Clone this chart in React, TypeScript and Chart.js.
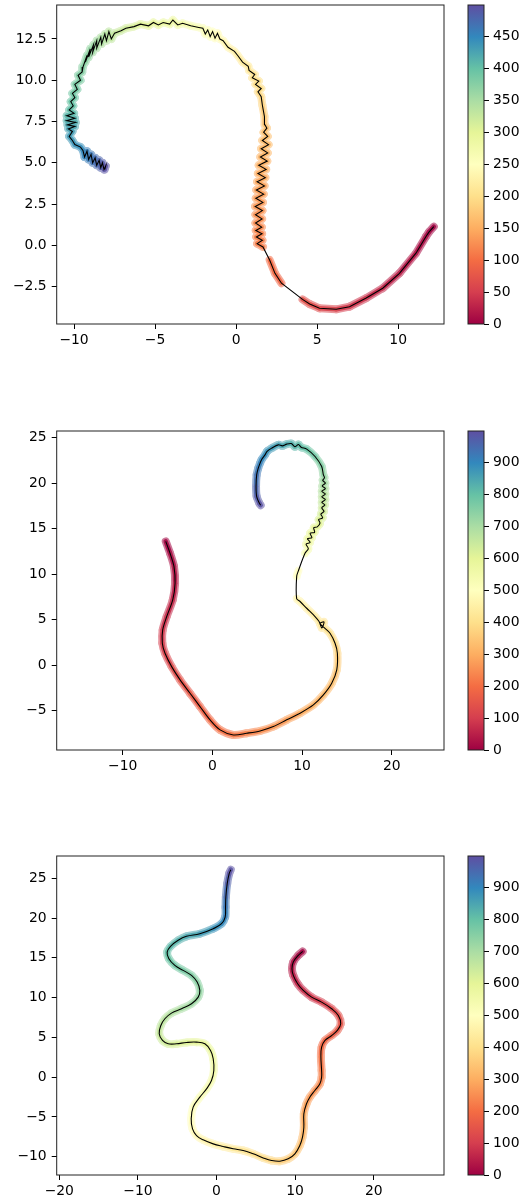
import React, { useEffect, useRef } from 'react';
import { Chart, registerables } from 'chart.js';
Chart.register(...registerables);

// ---------------- Panel 1 (500 points, colour = index) ----------------
const p1X = [12.2, 11.9, 11.72, 11.1, 10.08, 9.05, 8.03, 7.0, 6.18, 5.15, 4.54, 4.1,
  2.8, 2.4, 2.07,
  1.66, 1.3, 1.62, 1.25, 1.6, 1.22, 1.58, 1.2, 1.6, 1.2, 1.62, 1.18, 1.65, 1.22, 1.7, 1.25, 1.75, 1.3, 1.8, 1.35, 1.85, 1.4, 1.92, 1.5, 1.95, 1.55, 2.0, 1.62, 1.95, 1.7, 1.9, 1.78,
  1.75, 1.62, 1.55, 1.35, 1.55, 1.2, 1.4, 1.0, 1.15, 0.8, 0.75, 0.4, 0.1,
  -0.1, -0.5, -0.8, -1.0, -1.15, -1.3, -1.45, -1.6, -1.75, -1.9, -2.05, -2.3, -2.8, -3.3, -3.6, -3.9, -4.1, -4.5, -4.8, -5.1, -5.4, -5.9, -6.3, -6.8, -7.1, -7.5,
  -7.7, -7.85, -8.0, -8.1, -8.3, -8.35, -8.6, -8.6, -8.85, -8.8, -9.1, -9.0, -9.3, -9.2, -9.45,
  -9.5, -9.75, -9.6, -9.95, -9.8, -10.1, -9.95, -10.2, -10.05, -10.3,
  -10.0, -10.45, -9.95, -10.45, -9.9, -10.4, -9.95, -10.35, -10.1, -10.3, -10.1, -9.95, -9.6,
  -9.45, -9.35, -9.2, -9.1, -8.95, -8.85, -8.7, -8.6, -8.45, -8.35, -8.25, -8.15, -8.05, -8.1];
const p1Y = [1.13, 0.8, 0.53, -0.48, -1.7, -2.6, -3.2, -3.72, -3.88, -3.82, -3.56, -3.28,
  -2.3, -1.7, -0.89,
  -0.1, 0.1, 0.3, 0.5, 0.7, 0.9, 1.1, 1.35, 1.6, 1.85, 2.1, 2.35, 2.6, 2.85, 3.1, 3.35, 3.6, 3.85, 4.1, 4.35, 4.6, 4.85, 5.1, 5.35, 5.6, 5.85, 6.1, 6.35, 6.6, 6.85, 7.1, 7.3,
  7.8, 8.5, 9.0, 9.3, 9.5, 9.75, 9.95, 10.15, 10.35, 10.6, 10.85, 11.1, 11.5,
  11.75, 12.0, 12.4, 12.5, 12.85, 12.55, 12.95, 12.65, 13.05, 12.8, 13.15, 13.2, 13.3, 13.45, 13.35, 13.65, 13.4, 13.5, 13.35, 13.5, 13.3, 13.4, 13.25, 13.15, 13.0, 12.85,
  12.5, 12.95, 12.4, 12.8, 12.2, 12.6, 11.95, 12.4, 11.7, 12.15, 11.4, 11.9, 11.1, 11.5, 10.8,
  10.5, 10.3, 10.0, 9.75, 9.45, 9.2, 8.95, 8.7, 8.45, 8.2,
  8.0, 7.85, 7.7, 7.55, 7.45, 7.3, 7.2, 7.05, 6.9, 6.6, 6.35, 6.1, 5.95,
  5.75, 5.35, 5.7, 5.2, 5.5, 5.0, 5.3, 4.85, 5.15, 4.7, 5.0, 4.6, 4.8, 4.6];
const p1T = [0, 4, 7, 14, 22, 30, 38, 46, 53, 61, 67, 72,
  88, 94, 100,
  110, 112, 114, 116, 118, 120, 122, 124, 126, 128, 130, 132, 134, 136, 138, 140, 142, 144, 146, 148, 150, 152, 154, 156, 158, 160, 162, 164, 166, 168, 170, 172,
  178, 186, 191, 194, 196, 199, 201, 204, 206, 209, 212, 215, 219,
  225, 230, 236, 239, 242, 245, 248, 251, 254, 257, 260, 263, 268, 274, 277, 280, 283, 287, 291, 294, 298, 304, 309, 316, 321, 327,
  330, 333, 336, 339, 342, 345, 348, 351, 354, 357, 360, 363, 366, 369, 372,
  375, 378, 381, 384, 387, 390, 393, 396, 399, 402,
  405, 408, 411, 414, 417, 420, 423, 426, 429, 432, 435, 438, 442,
  446, 450, 454, 458, 462, 466, 470, 474, 478, 482, 486, 490, 494, 499];
const p1GapAfterT = [72, 100];
const p1XTicks = [-10, -5, 0, 5, 10];
const p1YTicks = [-2.5, 0, 2.5, 5, 7.5, 10, 12.5];
const p1CTicks = [0, 50, 100, 150, 200, 250, 300, 350, 400, 450];

// ---------------- Panel 2 (1000 points) ----------------
const p2X = [-5.2, -4.72, -4.28, -4.16, -4.42, -5.09, -5.54, -5.58, -5.28, -4.54, -3.6, -2.49, -1.38, -0.26, 0.86, 2.34, 3.83, 5.32, 6.8, 8.29, 9.78, 11.26, 12.38, 13.31, 13.87, 13.94, 13.68, 13.12,
  12.5, 12.0, 12.45, 12.2, 11.9, 11.45, 10.52, 9.78, 9.4,
  9.4, 9.6,
  10.33, 10.7, 10.45, 10.9, 10.6, 11.1, 10.9, 11.4, 11.3, 11.7, 12.0, 11.85, 12.3, 12.1, 12.45, 12.2,
  12.55, 12.2, 12.6, 12.2, 12.6, 12.2, 12.6, 12.25, 12.6, 12.3, 12.5, 12.38,
  12.19, 11.45, 10.52, 9.9, 9.6, 9.2, 8.8, 8.29, 7.8, 7.36, 6.62, 6.1, 5.87, 5.5, 5.32, 5.1, 4.94, 4.87, 4.94, 5.24, 5.39];
const p2Y = [13.6, 12.3, 10.84, 9.0, 7.18, 5.35, 3.88, 2.42, 1.32, -0.15, -1.61, -3.08, -4.54, -6.0, -7.1, -7.66, -7.47, -7.22, -6.74, -6.0, -5.27, -4.36, -3.26, -1.98, -0.51, 1.32, 2.42, 3.52,
  4.1, 4.6, 4.75, 4.1, 4.8, 5.35, 6.26, 7.0, 7.3,
  9.74, 10.4,
  12.3, 12.8, 13.3, 13.5, 13.9, 14.0, 14.5, 14.6, 15.1, 15.2, 15.6, 16.0, 16.2, 16.6, 16.9, 17.3,
  17.6, 17.9, 18.2, 18.5, 18.8, 19.1, 19.4, 19.7, 20.0, 20.3, 20.6, 20.9,
  21.83, 22.93, 23.74, 23.95, 24.25, 24.0, 24.35, 24.29, 24.1, 24.21, 23.85, 23.5, 23.11, 22.6, 22.2, 21.6, 20.92, 19.63, 18.53, 17.8, 17.58];
const p2T = [0, 15, 30, 45, 60, 75, 88, 100, 110, 125, 140, 155, 170, 185, 200, 215, 230, 245, 260, 275, 290, 305, 320, 335, 350, 370, 385, 400,
  410, 414, 417, 420, 424, 432, 448, 460, 468,
  490, 500,
  530, 538, 546, 553, 560, 567, 574, 581, 588, 595, 603, 610, 617, 624, 631, 638,
  645, 652, 659, 666, 673, 680, 687, 694, 701, 708, 715, 725,
  745, 770, 795, 805, 810, 818, 825, 835, 843, 850, 865, 875, 885, 897, 905, 918, 930, 950, 970, 985, 999];
const p2GapAfterT = [468, 500];
const p2XTicks = [-10, 0, 10, 20];
const p2YTicks = [-5, 0, 5, 10, 15, 20, 25];
const p2CTicks = [0, 100, 200, 300, 400, 500, 600, 700, 800, 900];

// ---------------- Panel 3 (1000 points) ----------------
const p3X = [10.96, 10.4, 9.77, 9.6, 9.77, 10.32, 11.04, 12.1, 13.37, 14.65, 15.5, 15.8, 15.37, 14.65, 13.8, 13.37, 13.28, 13.37, 13.37, 13.15, 12.51, 11.87, 11.45, 11.11, 11.11, 10.94, 10.6, 9.97, 9.12, 8.06, 7.0, 5.94, 4.66, 3.39, 2.12, 0.85, -0.42, -1.7, -2.54, -3.05, -3.22,
  -2.97, -2.12, -1.27, -0.64, -0.34, -0.42, -0.76, -1.48, -2.54, -3.82, -5.09, -6.15, -6.87, -7.29, -7.08, -6.57, -5.73, -4.45, -3.18, -2.33, -2.12, -2.46, -3.18, -4.24, -5.3, -6.06, -6.28, -5.85, -4.88, -3.82, -2.12, -0.42, 0.64, 1.1, 1.15, 1.19, 1.36, 1.61, 1.82];
const p3Y = [15.8, 15.3, 14.47, 13.63, 12.79, 11.74, 10.9, 10.06, 9.43, 8.6, 7.76, 6.71, 5.87, 5.24, 4.61, 3.77, 2.52, 0.84, 0, -0.84, -1.68, -2.52, -3.35, -4.61, -6.29, -7.55, -8.6, -9.64, -10.27, -10.57, -10.48, -10.15, -9.64, -9.22, -9.01, -8.72, -8.39, -7.88, -7.34, -6.5, -5.24,
  -3.77, -2.52, -1.47, -0.42, 0.84, 2.31, 3.35, 4.19, 4.4, 4.36, 4.19, 4.19, 4.61, 5.45, 6.5, 7.34, 8.05, 8.6, 9.22, 10.06, 10.9, 11.95, 12.79, 13.42, 14.05, 14.89, 15.72, 16.44, 17.2, 17.7, 18.03, 18.66, 19.29, 20.13, 21.38, 22.64, 24.32, 25.58, 26.08];
const p3T = [0, 10, 23, 34, 45, 59, 72, 86, 101, 117, 131, 144, 156, 168, 180, 192, 205, 223, 232, 242, 255, 267, 277, 291, 309, 323, 334, 347, 358, 369, 379, 390, 403, 416, 428, 440, 452, 465, 475, 485, 495,
  508, 520, 530, 540, 550, 562, 572, 583, 594, 606, 618, 628, 638, 648, 660, 670, 682, 696, 710, 722, 731, 743, 755, 768, 781, 792, 802, 812, 825, 837, 857, 877, 892, 904, 920, 936, 960, 985, 999];
const p3GapAfterT: number[] = [];
const p3XTicks = [-20, -10, 0, 10, 20];
const p3YTicks = [-10, -5, 0, 5, 10, 15, 20, 25];
const p3CTicks = [0, 100, 200, 300, 400, 500, 600, 700, 800, 900];

// ---------------- colormap ----------------
const SPECTRAL = ['#9e0142', '#d53e4f', '#f46d43', '#fdae61', '#fee08b', '#ffffbf', '#e6f598', '#abdda4', '#66c2a5', '#3288bd', '#5e4fa2'];
const SPEC_RGB = SPECTRAL.map(h => [parseInt(h.slice(1, 3), 16), parseInt(h.slice(3, 5), 16), parseInt(h.slice(5, 7), 16)]);
function cmap(f: number, light = 0): string {
  const g = Math.min(1, Math.max(0, f));
  const s = g * 10;
  const i = Math.min(9, Math.floor(s));
  const u = s - i;
  const a = SPEC_RGB[i], b = SPEC_RGB[i + 1];
  const c = [0, 1, 2].map(k => a[k] + (b[k] - a[k]) * u).map(v => Math.round(v + (255 - v) * light));
  return `rgb(${c[0]},${c[1]},${c[2]})`;
}

const FONT = { family: 'DejaVu Sans', size: 13.9 };
const fmt = (v: number, d: number) => Number(v).toFixed(d).replace('-', '\u2212');

type Panel = {
  top: number; xs: number[]; ys: number[]; ts: number[]; tMax: number; gaps: number[]; tension: number;
  xMin: number; xMax: number; yMin: number; yMax: number;
  xTicks: number[]; yTicks: number[]; yDec: number; cTicks: number[];
};

const PANELS: Panel[] = [
  { top: 0, xs: p1X, ys: p1Y, ts: p1T, tMax: 499, gaps: p1GapAfterT, tension: 0, xMin: -11.07, xMax: 12.83, yMin: -4.77, yMax: 14.56, xTicks: p1XTicks, yTicks: p1YTicks, yDec: 1, cTicks: p1CTicks },
  { top: 426, xs: p2X, ys: p2Y, ts: p2T, tMax: 999, gaps: p2GapAfterT, tension: 0.3, xMin: -17.36, xMax: 25.83, yMin: -9.31, yMax: 25.73, xTicks: p2XTicks, yTicks: p2YTicks, yDec: 0, cTicks: p2CTicks },
  { top: 851, xs: p3X, ys: p3Y, ts: p3T, tMax: 999, gaps: p3GapAfterT, tension: 0.4, xMin: -20.33, xMax: 28.94, yMin: -12.3, yMax: 27.8, xTicks: p3XTicks, yTicks: p3YTicks, yDec: 0, cTicks: p3CTicks },
];

const framePlugin = {
  id: 'frame',
  afterDatasetsDraw(chart: any) {
    const { ctx, chartArea: a } = chart;
    ctx.save();
    ctx.strokeStyle = '#222';
    ctx.lineWidth = 1;
    ctx.strokeRect(a.left, a.top, a.right - a.left, a.bottom - a.top);
    ctx.restore();
  },
};

const gradientPlugin = {
  id: 'cbar',
  beforeDatasetsDraw(chart: any) {
    const { ctx, chartArea: a } = chart;
    const g = ctx.createLinearGradient(0, a.bottom, 0, a.top);
    SPECTRAL.forEach((c, i) => g.addColorStop(i / 10, c));
    ctx.save();
    ctx.fillStyle = g;
    ctx.fillRect(a.left, a.top, a.right - a.left, a.bottom - a.top);
    ctx.restore();
  },
};

const gridOpts = { display: true, drawOnChartArea: false, drawTicks: true, tickLength: 5, tickColor: '#000', color: '#000', tickWidth: 1 };

function mainConfig(p: Panel): any {
  const gapSet = new Set(p.gaps);
  const mk = () => p.xs.map((x, i) => ({ x, y: p.ys[i] }));
  const seg = (light: number) => (ctx: any) => {
    const i = ctx.p0DataIndex;
    if (gapSet.has(p.ts[i])) return 'rgba(0,0,0,0)';
    const t = (p.ts[i] + p.ts[Math.min(i + 1, p.ts.length - 1)]) / 2;
    return cmap(t / p.tMax, light);
  };
  const band = { showLine: true, borderColor: 'rgba(0,0,0,0)', pointRadius: 0, tension: p.tension, borderCapStyle: 'round', borderJoinStyle: 'round' };
  return {
    type: 'scatter',
    data: {
      datasets: [
        { data: mk(), showLine: true, borderColor: '#000', borderWidth: 1.1, pointRadius: 0, order: 0, tension: p.tension },
        { ...band, data: mk(), borderWidth: 4.5, order: 1, segment: { borderColor: seg(0.05) } },
        { ...band, data: mk(), borderWidth: 8, order: 2, segment: { borderColor: seg(0.45) } },
      ],
    },
    options: {
      responsive: false, animation: false, events: [],
      layout: { padding: { top: 5, right: 6, left: 0, bottom: 0 } },
      plugins: { legend: { display: false }, tooltip: { enabled: false } },
      scales: {
        x: {
          type: 'linear', min: p.xMin, max: p.xMax,
          afterBuildTicks: (s: any) => { s.ticks = p.xTicks.map(v => ({ value: v })); },
          afterFit: (s: any) => { s.height = 30; s.paddingLeft = 0; s.paddingRight = 0; },
          grid: gridOpts, border: { display: false },
          ticks: { color: '#000', font: FONT, padding: 3, maxRotation: 0, autoSkip: false, callback: (v: number) => fmt(v, 0) },
        },
        y: {
          type: 'linear', min: p.yMin, max: p.yMax,
          afterBuildTicks: (s: any) => { s.ticks = p.yTicks.map(v => ({ value: v })); },
          afterFit: (s: any) => { s.width = 56.7; s.paddingTop = 0; s.paddingBottom = 0; },
          grid: gridOpts, border: { display: false },
          ticks: { color: '#000', font: FONT, padding: 5, autoSkip: false, callback: (v: number) => fmt(v, p.yDec) },
        },
      },
    },
    plugins: [framePlugin],
  };
}

function cbConfig(p: Panel): any {
  return {
    type: 'scatter',
    data: { datasets: [] },
    options: {
      responsive: false, animation: false, events: [],
      layout: { padding: { top: 5, right: 0, left: 8, bottom: 30 } },
      plugins: { legend: { display: false }, tooltip: { enabled: false } },
      scales: {
        x: { type: 'linear', display: false, min: 0, max: 1 },
        y: {
          type: 'linear', position: 'right', min: 0, max: p.tMax,
          afterBuildTicks: (s: any) => { s.ticks = p.cTicks.map(v => ({ value: v })); },
          afterFit: (s: any) => { s.width = 46; s.paddingTop = 0; s.paddingBottom = 0; },
          grid: gridOpts, border: { display: false },
          ticks: { color: '#000', font: FONT, padding: 4, autoSkip: false, callback: (v: number) => fmt(v, 0) },
        },
      },
    },
    plugins: [gradientPlugin, framePlugin],
  };
}

export default function App() {
  const refs = useRef<(HTMLCanvasElement | null)[]>([]);
  useEffect(() => {
    const charts: Chart[] = [];
    PANELS.forEach((p, k) => {
      const m = refs.current[2 * k];
      const c = refs.current[2 * k + 1];
      if (m) charts.push(new Chart(m, mainConfig(p)));
      if (c) charts.push(new Chart(c, cbConfig(p)));
    });
    return () => charts.forEach(ch => ch.destroy());
  }, []);
  return (
    <div style={{ position: 'absolute', left: 0, top: 0, width: 530, height: 1199, overflow: 'hidden', background: '#fff' }}>
      {PANELS.map((p, k) => (
        <React.Fragment key={k}>
          <canvas ref={el => { refs.current[2 * k] = el; }} width={450} height={354}
            style={{ position: 'absolute', left: 0, top: p.top, width: 450, height: 354 }} />
          <canvas ref={el => { refs.current[2 * k + 1] = el; }} width={70} height={354}
            style={{ position: 'absolute', left: 460, top: p.top, width: 70, height: 354 }} />
        </React.Fragment>
      ))}
    </div>
  );
}
